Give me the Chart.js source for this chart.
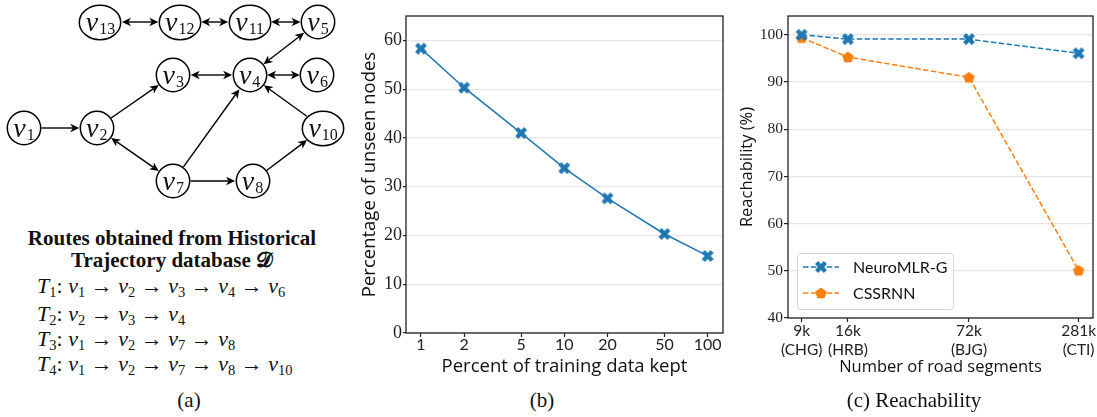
<!DOCTYPE html>
<html>
<head>
<meta charset="utf-8">
<script src="https://cdn.jsdelivr.net/npm/chart.js@4.4.1/dist/chart.umd.min.js"></script>
<style>
  body { margin: 0; background: #fff; width: 1097px; height: 417px; position: relative; overflow: hidden; }
  .abs { position: absolute; }
  .serif { font-family: "Liberation Serif", serif; color: #111; }
  .head { left: 0; width: 344px; text-align: center; font-weight: bold; font-size: 21px; line-height: 22px; }
  .route { left: 37px; font-size: 22px; line-height: 24px; white-space: nowrap; }
  .route i { font-style: italic; }
  .route sub { font-size: 0.66em; vertical-align: -0.26em; line-height: 0; font-style: normal; }
  .cap { font-size: 21px; line-height: 24px; white-space: nowrap; transform: translateX(-50%); }
</style>
</head>
<body>
<div class="abs" style="left:0;top:0"><canvas id="graph" width="345" height="205"></canvas></div>
<div class="abs" style="left:355px;top:0"><canvas id="unseen" width="373" height="385"></canvas></div>
<div class="abs" style="left:725px;top:0"><canvas id="reach" width="372" height="385"></canvas></div>

<div class="abs serif head" style="top:227px">Routes obtained from Historical</div>
<div class="abs serif head" style="top:249px">Trajectory database 𝒟</div>
<div class="abs serif route" style="top:274px"><i>T</i><sub>1</sub>: <i>v</i><sub>1</sub> → <i>v</i><sub>2</sub> → <i>v</i><sub>3</sub> → <i>v</i><sub>4</sub> → <i>v</i><sub>6</sub></div>
<div class="abs serif route" style="top:302px"><i>T</i><sub>2</sub>: <i>v</i><sub>2</sub> → <i>v</i><sub>3</sub> → <i>v</i><sub>4</sub></div>
<div class="abs serif route" style="top:327px"><i>T</i><sub>3</sub>: <i>v</i><sub>1</sub> → <i>v</i><sub>2</sub> → <i>v</i><sub>7</sub> → <i>v</i><sub>8</sub></div>
<div class="abs serif route" style="top:352px"><i>T</i><sub>4</sub>: <i>v</i><sub>1</sub> → <i>v</i><sub>2</sub> → <i>v</i><sub>7</sub> → <i>v</i><sub>8</sub> → <i>v</i><sub>10</sub></div>

<div class="abs serif cap" style="left:189px;top:388px">(a)</div>
<div class="abs serif cap" style="left:542px;top:388px">(b)</div>
<div class="abs serif cap" style="left:914px;top:388px">(c) Reachability</div>

<script>
// (a) road graph
const graphNodes = ['1', '2', '3', '4', '5', '6', '7', '8', '10', '11', '12', '13'];
const nodeCol = [0, 0.99, 2.03, 3.07, 4.0, 3.99, 2.03, 3.11, 4.07, 3.07, 2.12, 1.04];
const nodeRow = [2, 2, 1, 1, 0, 1, 3, 3, 2, 0, 0, 0];
const edgeFrom = ['1', '2', '2', '3', '4', '5', '7', '7', '8', '10', '13', '12', '11'];
const edgeTo = ['2', '3', '7', '4', '6', '4', '4', '8', '10', '4', '12', '11', '5'];
const edgeTwoWay = [false, false, true, true, true, true, false, false, false, false, true, true, true];

// (b) unseen nodes vs training data kept
const keptPercent = [1, 2, 5, 10, 20, 50, 100];
const unseenNodes = [58.3, 50.3, 41.0, 33.8, 27.6, 20.3, 15.8];
const unseenTicks = [0, 10, 20, 30, 40, 50, 60];

// (c) reachability vs road network size (thousands of segments)
const roadSegments = [9, 16, 72, 281];
const segmentLabels = [['9k', '(CHG)'], ['16k', '(HRB)'], ['72k', '(BJG)'], ['281k', '(CTI)']];
const neuroMLR = [100, 99.1, 99.1, 96.1];
const cssrnn = [99.4, 95.3, 91.0, 50.1];
const reachTicks = [40, 50, 60, 70, 80, 90, 100];

const BLUE = '#1f77b4';
const ORANGE = '#ff7f0e';
const SANS = 'Lato';
const TITLE_SANS = '"Open Sans"';
const SERIF = '"Liberation Serif"';

function xMarker(color, size) {
    const c = document.createElement('canvas');
    c.width = c.height = size + 2;
    const g = c.getContext('2d');
    const L = size * 0.52, t = size * 0.18;
    g.translate(c.width / 2, c.height / 2);
    g.rotate(Math.PI / 4);
    g.fillStyle = color;
    g.beginPath();
    const pts = [[-t, -L], [t, -L], [t, -t], [L, -t], [L, t], [t, t], [t, L], [-t, L], [-t, t], [-L, t], [-L, -t], [-t, -t]];
    pts.forEach(([x, y], i) => i ? g.lineTo(x, y) : g.moveTo(x, y));
    g.closePath();
    g.fill();
    return c;
}

function pentagon(color, size) {
    const c = document.createElement('canvas');
    c.width = c.height = size + 2;
    const g = c.getContext('2d');
    const r = size / 2;
    g.translate(c.width / 2, c.height / 2 + 0.5);
    g.fillStyle = color;
    g.beginPath();
    for (let i = 0; i < 5; i++) {
        const a = -Math.PI / 2 + i * 2 * Math.PI / 5;
        const x = r * Math.cos(a), y = r * Math.sin(a);
        i ? g.lineTo(x, y) : g.moveTo(x, y);
    }
    g.closePath();
    g.fill();
    return c;
}

function ellipseNode(rx, ry) {
    const c = document.createElement('canvas');
    c.width = Math.ceil(rx * 2 + 4);
    c.height = Math.ceil(ry * 2 + 4);
    const g = c.getContext('2d');
    g.fillStyle = '#fff';
    g.strokeStyle = '#000';
    g.lineWidth = 1.5;
    g.beginPath();
    g.ellipse(c.width / 2, c.height / 2, rx, ry, 0, 0, Math.PI * 2);
    g.fill();
    g.stroke();
    return c;
}

const nodeRadius = name => name.length > 1 ? [20.7, 17.2] : [16.7, 16.7];

// frame around the plot area, drawn over the data like matplotlib spines
const framePlugin = {
    id: 'frame',
    afterDatasetsDraw(chart) {
        const { ctx, chartArea: a } = chart;
        ctx.save();
        ctx.strokeStyle = '#222';
        ctx.lineWidth = 1.3;
        ctx.strokeRect(a.left, a.top, a.right - a.left, a.bottom - a.top);
        ctx.restore();
    }
};

// ---------- (a) graph ----------
const edgePlugin = {
    id: 'edges',
    beforeDatasetsDraw(chart) {
        const { ctx, scales: { x, y } } = chart;
        const pos = name => {
            const i = graphNodes.indexOf(name);
            return { x: x.getPixelForValue(nodeCol[i]), y: y.getPixelForValue(nodeRow[i]), r: nodeRadius(name) };
        };
        const rim = (n, ux, uy) => 1 / Math.sqrt((ux / n.r[0]) ** 2 + (uy / n.r[1]) ** 2);
        const head = (tx, ty, ux, uy) => {
            const L = 9, W = 4.2, N = 2.5;
            ctx.beginPath();
            ctx.moveTo(tx, ty);
            ctx.lineTo(tx - ux * L - uy * W, ty - uy * L + ux * W);
            ctx.lineTo(tx - ux * (L - N), ty - uy * (L - N));
            ctx.lineTo(tx - ux * L + uy * W, ty - uy * L - ux * W);
            ctx.closePath();
            ctx.fill();
        };
        ctx.save();
        ctx.strokeStyle = '#000';
        ctx.fillStyle = '#000';
        ctx.lineWidth = 1.4;
        edgeFrom.forEach((f, i) => {
            const a = pos(f), b = pos(edgeTo[i]);
            const dx = b.x - a.x, dy = b.y - a.y, d = Math.hypot(dx, dy);
            const ux = dx / d, uy = dy / d;
            const sa = rim(a, ux, uy) + 0.8, sb = rim(b, ux, uy) + 0.8;
            const sx = a.x + ux * sa, sy = a.y + uy * sa;
            const ex = b.x - ux * sb, ey = b.y - uy * sb;
            const inS = edgeTwoWay[i] ? 6.5 : 0;
            ctx.beginPath();
            ctx.moveTo(sx + ux * inS, sy + uy * inS);
            ctx.lineTo(ex - ux * 6.5, ey - uy * 6.5);
            ctx.stroke();
            head(ex, ey, ux, uy);
            if (edgeTwoWay[i]) head(sx, sy, -ux, -uy);
        });
        ctx.restore();
        // node images land on fractional pixels; keep their outlines crisp
        ctx.imageSmoothingEnabled = false;
    },
    afterDatasetsDraw(chart) {
        const { ctx, scales: { x, y } } = chart;
        ctx.imageSmoothingEnabled = true;
        ctx.save();
        ctx.fillStyle = '#111';
        ctx.textBaseline = 'alphabetic';
        graphNodes.forEach((name, i) => {
            const cx = x.getPixelForValue(nodeCol[i]), cy = y.getPixelForValue(nodeRow[i]);
            ctx.font = 'italic 28px ' + SERIF;
            const wv = ctx.measureText('v').width;
            ctx.font = '16px ' + SERIF;
            const ws = ctx.measureText(name).width;
            const left = cx - (wv + ws + 1) / 2;
            ctx.font = 'italic 28px ' + SERIF;
            ctx.fillText('v', left, cy + 8.5);
            ctx.font = '16px ' + SERIF;
            ctx.fillText(name, left + wv + 1, cy + 12);
        });
        ctx.restore();
    }
};

new Chart(document.getElementById('graph'), {
    type: 'scatter',
    data: {
        datasets: [{
            data: graphNodes.map((n, i) => ({ x: nodeCol[i], y: nodeRow[i] })),
            pointStyle: graphNodes.map(n => ellipseNode(...nodeRadius(n))),
            pointRadius: 17,
            pointHoverRadius: 17,
            clip: false
        }]
    },
    options: {
        responsive: false,
        animation: false,
        events: [],
        devicePixelRatio: 1,
        layout: { padding: 0, autoPadding: false },
        plugins: { legend: { display: false }, tooltip: { enabled: false } },
        scales: {
            x: { type: 'linear', display: false, min: -24 / 73.5, max: (345 - 24) / 73.5 },
            y: { type: 'linear', display: false, reverse: true, min: -22 / 53, max: (205 - 22) / 53 }
        }
    },
    plugins: [edgePlugin]
});

// ---------- (b) unseen nodes ----------
new Chart(document.getElementById('unseen'), {
    type: 'line',
    data: {
        datasets: [{
            data: keptPercent.map((v, i) => ({ x: v, y: unseenNodes[i] })),
            borderColor: BLUE,
            borderWidth: 1.5,
            pointStyle: xMarker(BLUE, 12),
            pointRadius: 7,
            pointHoverRadius: 7,
            tension: 0
        }]
    },
    options: {
        responsive: false,
        animation: false,
        events: [],
        devicePixelRatio: 1,
        layout: { padding: { top: 16, right: 5, left: 0, bottom: 0 }, autoPadding: false },
        plugins: { legend: { display: false }, tooltip: { enabled: false } },
        scales: {
            x: {
                type: 'logarithmic',
                min: 0.786,
                max: 128,
                afterBuildTicks: s => { s.ticks = keptPercent.map(v => ({ value: v })); },
                afterFit: s => { s.height = 52; s.paddingLeft = 0; s.paddingRight = 0; },
                ticks: {
                    autoSkip: false, maxRotation: 0, padding: 0,
                    color: '#222',
                    font: { family: SANS, size: 16, lineHeight: 1 },
                    callback: v => String(v)
                },
                grid: { drawOnChartArea: false, tickColor: '#222', tickLength: 4, tickWidth: 1.2 },
                border: { display: false },
                title: {
                    display: true, text: 'Percent of training data kept', color: '#111',
                    font: { family: TITLE_SANS, size: 18.5 }, padding: { top: 0, bottom: 7 }
                }
            },
            y: {
                min: 0,
                max: 65,
                afterBuildTicks: s => { s.ticks = unseenTicks.map(v => ({ value: v })); },
                afterFit: s => { s.width = 51; },
                ticks: { padding: 1, color: '#222', font: { family: SERIF, size: 18 } },
                grid: { color: '#e6e6e6', lineWidth: 1.2, tickColor: '#222', tickLength: 3, tickWidth: 1.2 },
                border: { display: false },
                title: {
                    display: true, text: 'Percentage of unseen nodes', color: '#111',
                    font: { family: TITLE_SANS, size: 18.5 }, padding: { top: 4, bottom: 0 }
                }
            }
        }
    },
    plugins: [framePlugin]
});

// ---------- (c) reachability ----------
const blueX = xMarker(BLUE, 12);
const orangePent = pentagon(ORANGE, 12);

const legendPlugin = {
    id: 'boxLegend',
    afterDatasetsDraw(chart) {
        const { ctx, chartArea: a } = chart;
        const bx = a.left + 9, by = a.bottom - 65, bw = 156, bh = 56;
        ctx.save();
        ctx.fillStyle = 'rgba(255,255,255,0.85)';
        ctx.strokeStyle = '#d5d5d5';
        ctx.lineWidth = 1;
        ctx.beginPath();
        ctx.roundRect(bx + 0.5, by + 0.5, bw, bh, 3);
        ctx.fill();
        ctx.stroke();
        chart.data.datasets.forEach((ds, i) => {
            const ly = by + 14 + i * 26;
            ctx.strokeStyle = ds.borderColor;
            ctx.lineWidth = ds.borderWidth;
            ctx.setLineDash(ds.borderDash);
            ctx.beginPath();
            ctx.moveTo(bx + 6, ly);
            ctx.lineTo(bx + 42, ly);
            ctx.stroke();
            ctx.setLineDash([]);
            const img = ds.pointStyle;
            ctx.drawImage(img, bx + 24 - img.width / 2, ly - img.height / 2);
            ctx.fillStyle = '#111';
            ctx.font = '16px ' + SANS;
            ctx.textBaseline = 'middle';
            ctx.fillText(ds.label, bx + 56, ly + 1);
        });
        ctx.restore();
    }
};

new Chart(document.getElementById('reach'), {
    type: 'line',
    data: {
        datasets: [{
            label: 'NeuroMLR-G',
            data: roadSegments.map((v, i) => ({ x: v, y: neuroMLR[i] })),
            borderColor: BLUE,
            borderWidth: 1.5,
            borderDash: [5.5, 2.4],
            pointStyle: blueX,
            pointRadius: 7,
            pointHoverRadius: 7,
            tension: 0
        }, {
            label: 'CSSRNN',
            data: roadSegments.map((v, i) => ({ x: v, y: cssrnn[i] })),
            borderColor: ORANGE,
            borderWidth: 1.5,
            borderDash: [5.5, 2.4],
            pointStyle: orangePent,
            pointRadius: 7,
            pointHoverRadius: 7,
            tension: 0
        }]
    },
    options: {
        responsive: false,
        animation: false,
        events: [],
        devicePixelRatio: 1,
        layout: { padding: { top: 16, right: 4, left: 0, bottom: 0 }, autoPadding: false },
        plugins: { legend: { display: false }, tooltip: { enabled: false } },
        scales: {
            x: {
                type: 'logarithmic',
                min: 7.6,
                max: 336,
                afterBuildTicks: s => { s.ticks = roadSegments.map(v => ({ value: v })); },
                afterFit: s => { s.height = 67; s.paddingLeft = 0; s.paddingRight = 0; },
                ticks: {
                    autoSkip: false, maxRotation: 0, padding: 0,
                    color: '#222',
                    font: { family: SANS, size: 15.5, lineHeight: 1.2 },
                    callback: (v, i) => segmentLabels[i]
                },
                grid: { drawOnChartArea: false, tickColor: '#222', tickLength: 4, tickWidth: 1.2 },
                border: { display: false },
                title: {
                    display: true, text: 'Number of road segments', color: '#111',
                    font: { family: TITLE_SANS, size: 16.5 }, padding: { top: 0, bottom: 8 }
                }
            },
            y: {
                min: 40,
                max: 104,
                afterBuildTicks: s => { s.ticks = reachTicks.map(v => ({ value: v })); },
                afterFit: s => { s.width = 63; },
                ticks: { padding: 1, color: '#222', font: { family: SERIF, size: 15.5 } },
                grid: { color: '#e6e6e6', lineWidth: 1.2, tickColor: '#222', tickLength: 4, tickWidth: 1.2 },
                border: { display: false },
                title: {
                    display: true, text: 'Reachability (%)', color: '#111',
                    font: { family: TITLE_SANS, size: 16.5 }, padding: { top: 12, bottom: 0 }
                }
            }
        }
    },
    plugins: [framePlugin, legendPlugin]
});
</script>
</body>
</html>
